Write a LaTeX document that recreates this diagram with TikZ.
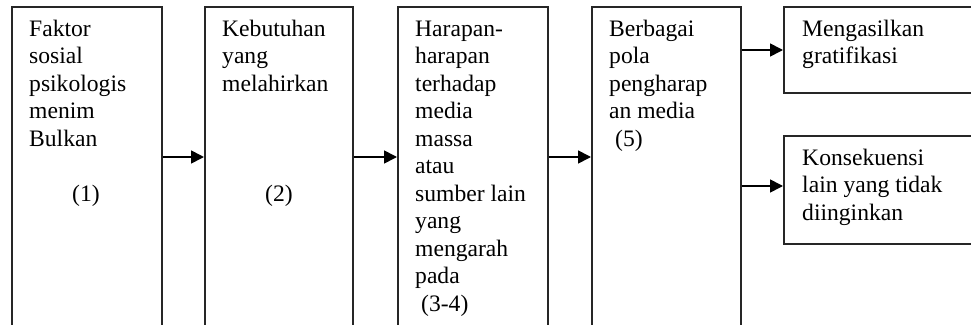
\documentclass[tikz,border=0pt]{standalone}
\usepackage{fontspec}
\setmainfont{Liberation Serif}
\usetikzlibrary{arrows.meta}
\begin{document}
\begin{tikzpicture}[x=1pt,y=-1pt,
  box/.style={draw=black!85, line width=1.7pt, inner sep=0pt, anchor=north west},
  txt/.style={anchor=north west, inner sep=0pt, align=left, font=\fontsize{23.6}{27.5}\selectfont},
  arr/.style={line width=1.7pt, -{Triangle[length=13pt,width=13pt]}}]
\useasboundingbox (0,0) rectangle (971,324);
\clip (0,0) rectangle (971,324);
% boxes
\node[box, minimum width=150pt, minimum height=340pt] (b1) at (11,6) {};
\node[box, minimum width=148pt, minimum height=340pt] (b2) at (204,6) {};
\node[box, minimum width=150pt, minimum height=340pt] (b3) at (397,6) {};
\node[box, minimum width=149pt, minimum height=340pt] (b4) at (591,6) {};
\node[box, minimum width=200pt, minimum height=86pt] (b5) at (783,6) {};
\node[box, minimum width=200pt, minimum height=108pt] (b6) at (783,135) {};
% texts
\node[txt] (t1) at (29,16.75) {\strut Faktor\\sosial\\psikologis\\menim\\Bulkan\\\mbox{}\\\hspace*{43pt}(1)};
\node[txt] (t2) at (222,16.75) {\strut Kebutuhan\\yang\\melahirkan\\\mbox{}\\\mbox{}\\\mbox{}\\\hspace*{43pt}(2)};
\node[txt] (t3) at (415,16.75) {\strut Harapan-\\harapan\\terhadap\\media\\massa\\atau\\sumber lain\\yang\\mengarah\\pada\\\hspace*{6pt}(3-4)};
\node[txt] (t4) at (609,16.75) {\strut Berbagai\\pola\\pengharap\\an media\\\hspace*{6pt}(5)};
\node[txt] (t5) at (802,16.75) {\strut Mengasilkan\\gratifikasi};
\node[txt] (t6) at (802,145.75) {\strut Konsekuensi\\lain yang tidak\\diinginkan};
% arrows
\coordinate (ya) at (0,157);
\coordinate (yb) at (0,50);
\coordinate (yc) at (0,186);
\draw[arr] (b1.east |- ya) -- (b2.west |- ya);
\draw[arr] (b2.east |- ya) -- (b3.west |- ya);
\draw[arr] (b3.east |- ya) -- (b4.west |- ya);
\draw[arr] (b4.east |- yb) -- (b5.west |- yb);
\draw[arr] (b4.east |- yc) -- (b6.west |- yc);
\end{tikzpicture}
\end{document}
